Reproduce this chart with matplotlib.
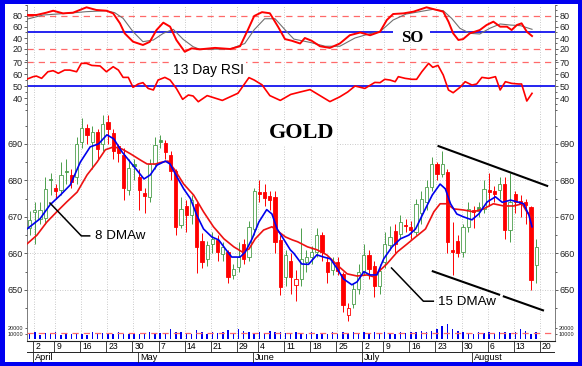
import matplotlib
matplotlib.use("Agg")
import matplotlib.pyplot as plt
from matplotlib.patches import Rectangle
from matplotlib.ticker import MultipleLocator

plt.rcParams["font.family"] = ["Liberation Sans", "DejaVu Sans"]

W, H = 582, 366
X0, X1 = -1.5, 99.6

# trading-day index: 0 = Mon 2 Apr 2007, -1 = Fri 30 Mar
day = list(range(-1, 97))
opens = [667.0, 671.3, 669.5, 669.7, 680.5, 678.0, 677.4, 682.6, 681.5, 681.0,
         690.5, 694.5, 690.5, 693.3, 690.0, 696.0, 693.0, 689.5, 687.0, 677.5,
         684.5, 681.0, 676.5, 675.5, 684.5, 691.0, 690.3, 687.0, 682.6, 667.8,
         673.0, 670.5, 673.6, 663.4, 658.5, 662.6, 663.7, 659.9, 660.4, 654.1,
         656.3, 662.6, 659.0, 666.7, 676.8, 676.8, 675.8, 675.5, 663.7, 653.6,
         658.0, 651.4, 653.0, 657.7, 659.0, 660.4, 665.0, 657.7, 655.5, 657.7,
         654.4, 643.0, 646.2, 650.3, 655.0, 659.6, 656.6, 651.1, 657.7, 662.3,
         666.2, 665.3, 667.8, 667.3, 666.0, 671.0, 674.1, 678.2, 684.5, 681.8,
         682.3, 661.0, 663.5, 660.4, 667.3, 671.9, 672.7, 672.2, 677.4, 677.0,
         677.4, 679.0, 666.4, 676.3, 674.3, 674.0, 672.7, 656.8]
highs = [671.5, 674.0, 674.0, 681.0, 682.0, 679.0, 685.0, 686.0, 683.0, 692.0,
         697.0, 695.5, 695.0, 694.0, 698.0, 698.0, 694.0, 690.0, 689.0, 686.0,
         686.0, 683.0, 678.0, 686.0, 692.0, 692.5, 691.0, 688.0, 683.0, 675.5,
         674.7, 676.0, 674.0, 665.5, 663.5, 666.0, 665.0, 663.0, 661.0, 657.0,
         663.0, 664.0, 669.0, 678.0, 680.0, 679.0, 677.0, 677.0, 665.0, 661.0,
         660.0, 655.5, 667.0, 661.0, 662.0, 667.0, 666.0, 659.0, 659.0, 659.0,
         655.0, 646.5, 652.0, 657.0, 662.5, 661.0, 658.0, 657.0, 666.0, 667.5,
         668.0, 670.5, 669.5, 669.0, 675.0, 677.0, 680.0, 686.5, 685.0, 688.0,
         683.0, 668.5, 665.0, 668.0, 674.0, 673.0, 674.0, 680.0, 682.0, 678.5,
         681.0, 681.0, 682.0, 677.0, 676.0, 675.0, 673.0, 664.0]
lows = [665.0, 662.5, 668.0, 668.0, 676.0, 675.0, 676.0, 679.0, 678.0, 679.0,
        689.0, 690.0, 683.0, 686.0, 688.0, 690.0, 686.0, 685.0, 674.5, 676.0,
        680.0, 672.0, 671.0, 674.0, 683.0, 689.0, 686.0, 680.0, 665.0, 667.0,
        666.0, 668.0, 654.5, 656.0, 656.5, 660.0, 658.0, 658.0, 652.0, 653.0,
        655.0, 657.0, 658.0, 665.0, 674.0, 673.0, 672.0, 660.0, 648.5, 651.0,
        649.0, 647.0, 651.0, 655.0, 657.0, 659.0, 658.0, 652.0, 654.0, 654.0,
        644.0, 641.5, 645.0, 649.0, 654.0, 653.0, 648.0, 649.0, 656.0, 661.0,
        660.0, 664.0, 666.0, 664.0, 665.0, 668.0, 672.0, 677.0, 680.0, 681.0,
        660.0, 654.0, 659.0, 659.0, 666.0, 667.0, 670.0, 671.0, 673.0, 674.0,
        675.0, 664.0, 663.0, 671.0, 670.0, 668.0, 650.0, 652.0]
closes = [669.2, 671.8, 672.0, 677.7, 680.0, 677.0, 681.5, 682.2, 679.6, 690.0,
          694.5, 692.5, 693.3, 688.5, 695.5, 694.2, 688.0, 687.5, 678.0, 683.5,
          684.0, 677.5, 675.8, 684.5, 689.7, 690.5, 687.7, 682.6, 667.3, 672.2,
          670.5, 674.7, 661.8, 657.7, 662.3, 664.0, 660.4, 661.8, 653.6, 655.8,
          659.0, 658.6, 667.3, 677.0, 676.3, 675.2, 674.7, 663.2, 650.8, 659.6,
          653.6, 653.0, 658.5, 659.0, 660.4, 665.0, 660.4, 655.0, 657.7, 655.2,
          645.9, 645.0, 650.3, 655.0, 659.6, 655.8, 651.1, 655.2, 662.6, 664.5,
          662.6, 668.6, 667.5, 666.4, 673.6, 675.0, 678.2, 684.5, 681.8, 684.5,
          663.2, 660.5, 660.0, 667.3, 672.2, 671.4, 671.7, 677.7, 676.8, 676.4,
          679.0, 666.4, 674.1, 674.0, 673.6, 673.4, 652.7, 661.8]
volume = [9000, 12000, 8000, 11000, 9000, 12000, 8000, 10000, 9000, 11000,
          10000, 8000, 12000, 9000, 11000, 10000, 9000, 12000, 10000, 9000,
          11000, 10000, 9000, 12000, 10000, 11000, 9000, 18000, 13000, 12000,
          11000, 10000, 17000, 12000, 10000, 13000, 11000, 12000, 17000, 11000,
          18000, 15000, 12000, 11000, 12000, 10000, 15000, 12000, 12000, 11000,
          10000, 12000, 11000, 9000, 12000, 10000, 11000, 9000, 12000, 10000,
          13000, 11000, 12000, 10000, 12000, 11000, 13000, 10000, 12000, 11000,
          10000, 12000, 11000, 13000, 12000, 14000, 13000, 14000, 18500, 23000,
          26000, 18500, 14000, 12000, 11000, 10000, 12000, 11000, 12000, 11000,
          13000, 12000, 11000, 12000, 18500, 14000, 10000, 12000]
vol_avg = 11500

ma8_x = [-1.5, 1.0, 2.9, 4.9, 6.8, 8.7, 10.6, 12.2, 13.8, 15.1,
         16.7, 18.3, 19.5, 20.9, 22.1, 23.4, 25.0, 25.9, 27.2, 28.5,
         29.8, 31.0, 32.3, 33.9, 35.2, 36.5, 37.7, 39.3, 40.3, 41.6,
         42.9, 44.4, 45.4, 46.4, 47.6, 48.9, 49.6, 51.1, 52.4, 54.0,
         55.3, 56.6, 57.9, 59.1, 60.7, 61.7, 63.0, 64.2, 65.5, 66.8,
         68.4, 70.0, 71.6, 72.9, 74.5, 76.1, 77.6, 78.6, 79.6, 80.8,
         82.1, 83.7, 85.0, 86.6, 88.2, 89.5, 91.1, 92.7, 93.6, 94.6, 95.2]
ma8_v = [666.7, 669.5, 673.3, 676.0, 678.8, 685.0, 689.2, 690.0, 692.5, 691.4,
         687.8, 685.0, 682.9, 680.4, 681.5, 684.2, 685.3, 684.5, 681.0, 677.7,
         675.0, 670.5, 666.7, 664.5, 663.7, 661.2, 659.0, 659.0, 660.4, 664.0,
         668.6, 672.0, 670.8, 666.7, 664.0, 661.0, 660.0, 657.1, 657.0, 659.6,
         659.0, 658.5, 655.8, 653.0, 651.4, 652.2, 655.0, 654.1, 654.1, 658.5,
         661.8, 664.0, 665.0, 666.7, 671.4, 676.0, 679.0, 677.7, 673.6, 670.8,
         670.0, 669.2, 670.8, 674.1, 675.5, 674.0, 674.6, 674.0, 673.6, 670.5, 667.3]
ma15_x = [-1.5, 0.4, 2.3, 4.2, 6.1, 8.1, 10.0, 11.9, 13.5, 15.1,
          16.7, 18.3, 20.2, 21.5, 23.1, 24.3, 25.5, 26.8, 28.5, 30.4,
          32.3, 34.2, 36.2, 38.1, 39.7, 41.0, 42.2, 43.8, 45.4, 46.7,
          48.0, 49.3, 50.3, 52.2, 54.0, 55.9, 57.9, 59.8, 61.7, 63.6,
          64.9, 66.2, 67.4, 69.4, 71.3, 72.9, 74.8, 76.4, 77.6, 78.9,
          80.2, 82.1, 84.0, 85.9, 87.8, 89.8, 91.7, 93.3, 94.2, 95.2]
ma15_v = [662.6, 665.0, 668.6, 671.4, 674.1, 676.8, 681.5, 685.0, 688.4, 689.2,
          688.6, 687.3, 685.6, 684.5, 684.5, 685.0, 685.3, 682.9, 679.0, 676.0,
          671.4, 667.3, 664.0, 661.8, 660.4, 661.2, 664.0, 666.4, 667.3, 665.9,
          664.5, 663.7, 663.2, 661.8, 661.0, 659.6, 656.8, 654.4, 653.8, 654.1,
          653.6, 655.5, 657.1, 660.4, 662.6, 664.5, 666.7, 671.4, 673.6, 673.6,
          672.2, 671.9, 671.4, 672.2, 673.6, 673.0, 673.0, 673.6, 671.4, 670.0]

so_k_x = [-1.6, 0.3, 2.2, 3.5, 5.4, 7.3, 9.9, 11.8, 13.7, 15.0,
          16.3, 17.2, 18.8, 20.7, 22.0, 23.3, 24.6, 25.9, 27.1, 28.7,
          30.0, 31.6, 34.5, 37.4, 39.3, 40.8, 42.0, 43.5, 45.0, 46.6,
          47.9, 49.2, 50.8, 51.7, 53.0, 54.6, 56.5, 58.4, 60.3, 62.3,
          64.2, 66.1, 67.4, 68.6, 70.6, 72.5, 75.0, 77.0, 78.2, 79.2,
          80.1, 81.1, 82.0, 83.3, 85.2, 86.5, 87.8, 89.1, 90.4, 91.3,
          92.3, 93.2, 94.2, 95.2]
so_k_v = [81.8, 81.8, 86.0, 89.6, 84.8, 86.0, 95.8, 90.9, 89.6, 84.8,
          66.7, 48.5, 33.3, 27.3, 33.0, 54.5, 67.9, 60.6, 36.4, 15.0,
          21.2, 19.4, 22.0, 20.0, 25.0, 55.0, 80.0, 87.0, 85.0, 60.0,
          38.0, 35.0, 30.0, 40.0, 35.0, 25.0, 22.0, 30.0, 45.0, 50.0,
          45.0, 51.5, 72.7, 83.6, 84.8, 87.9, 95.8, 90.9, 87.9, 69.7,
          48.5, 36.4, 38.0, 48.5, 54.5, 63.6, 69.7, 60.6, 60.6, 54.5,
          63.6, 66.7, 51.5, 43.6]
so_d_x = [-1.6, 1.6, 6.1, 9.9, 13.7, 15.3, 16.9, 18.8, 20.7, 22.7,
          24.6, 26.5, 28.4, 30.3, 31.6, 37.4, 40.2, 42.0, 44.0, 46.0,
          47.9, 49.6, 52.7, 55.6, 58.4, 61.3, 64.2, 66.1, 68.6, 71.1,
          73.7, 76.2, 78.2, 79.8, 81.4, 83.3, 85.2, 87.1, 89.1, 91.0,
          93.0, 95.2]
so_d_v = [74.0, 81.8, 84.8, 87.9, 89.6, 86.0, 75.8, 51.5, 33.3, 36.4,
          48.5, 55.8, 37.6, 24.2, 19.4, 20.0, 30.0, 55.0, 75.0, 75.0,
          55.0, 38.0, 32.0, 25.0, 25.0, 40.0, 48.0, 51.5, 72.7, 83.6,
          87.9, 92.1, 89.6, 75.8, 57.6, 48.5, 47.3, 57.6, 65.5, 63.6,
          62.4, 55.8]

rsi_x = [-1.6, -0.3, 0.3, 1.3, 2.5, 3.5, 4.5, 5.7, 6.7, 8.0,
         8.9, 9.9, 10.9, 12.5, 13.7, 15.0, 16.0, 16.9, 17.9, 18.8,
         19.8, 20.7, 21.7, 22.7, 23.6, 24.9, 25.9, 27.1, 28.3, 29.4,
         30.3, 31.3, 33.0, 35.9, 38.9, 41.0, 42.0, 43.5, 45.0, 47.0,
         49.0, 50.8, 52.7, 54.6, 56.5, 58.4, 59.9, 61.3, 63.2, 65.1,
         66.1, 67.0, 68.0, 69.0, 69.6, 70.9, 72.2, 73.1, 74.1, 75.4,
         76.2, 77.2, 78.2, 79.2, 80.1, 81.4, 82.4, 83.7, 84.6, 85.6,
         86.9, 88.2, 89.1, 90.1, 91.3, 92.6, 93.2, 94.2, 95.2]
rsi_v = [55.6, 57.8, 58.3, 56.4, 61.9, 62.8, 60.6, 63.3, 63.3, 61.9,
         68.9, 68.9, 67.2, 66.7, 61.9, 66.1, 63.3, 57.2, 57.2, 48.9,
         51.7, 52.8, 48.0, 46.7, 55.0, 57.2, 55.0, 48.0, 38.9, 42.5,
         41.7, 36.9, 42.0, 38.0, 44.0, 57.0, 55.0, 51.0, 42.0, 38.0,
         43.0, 45.0, 47.0, 42.0, 37.0, 41.0, 45.0, 50.0, 48.0, 53.0,
         52.8, 55.6, 55.0, 53.6, 57.8, 56.4, 55.6, 55.6, 61.9, 68.9,
         65.6, 67.2, 59.2, 46.7, 44.4, 48.9, 53.6, 50.8, 51.7, 57.2,
         56.4, 57.8, 46.7, 53.6, 52.2, 51.7, 51.7, 37.5, 43.9]

week_idx = [0, 4, 9, 14, 19, 24, 29, 34, 39, 43, 48, 53, 58, 63, 67, 72, 77, 82, 87, 92, 97]
week_lbl = ["2", "9", "16", "23", "30", "7", "14", "21", "29", "4", "11",
            "18", "25", "2", "9", "16", "23", "30", "6", "13", "20"]
month_idx = [0, 20, 42, 63, 84]
month_lbl = ["April", "May", "June", "July", "August"]

# trend channel drawn on the chart (index, price); the lower line has a small break
upper_x, upper_y = [77.3, 98.1], [689.4, 678.5]
lower_a_x, lower_a_y = [76.2, 88.9], [655.1, 648.7]
lower_b_x, lower_b_y = [89.8, 97.3], [648.2, 644.4]

GREEN = "#4c9f4c"
RED = "#ff0000"
BLUE = "#0000ee"
PINK = "#ff6a6a"
GRID = "#b8b8b8"

fig = plt.figure(figsize=(W / 100, H / 100), dpi=100, facecolor="#0000f0")
fig.patches.append(Rectangle((5 / W, 4 / H), 573 / W, 358 / H, transform=fig.transFigure,
                             facecolor="white", edgecolor="none", zorder=-10))


def panel(top, bottom, lo, hi, major, minor, labels=True):
    ax = fig.add_axes([27 / W, 1 - bottom / H, 528 / W, (bottom - top) / H])
    ax.set_xlim(X0, X1)
    ax.set_ylim(lo, hi)
    ax.set_facecolor("none")
    ax.spines["top"].set_visible(False)
    ax.spines["bottom"].set_visible(False)
    for s in ("left", "right"):
        ax.spines[s].set_color("#666666")
        ax.spines[s].set_linewidth(0.6)
    ax.set_xticks([])
    ax.set_yticks(major)
    if minor:
        ax.yaxis.set_minor_locator(MultipleLocator(minor))
    ax.tick_params(axis="y", which="both", left=True, right=True, labelleft=labels,
                   labelright=labels, labelsize=6.5, width=0.5, pad=1, colors="#222222")
    ax.tick_params(axis="y", which="major", length=2.2)
    ax.tick_params(axis="y", which="minor", length=1.2)
    for w in week_idx:
        ax.axvline(w - 0.2, color=GRID, lw=0.6, ls=(0, (1, 2)), zorder=0)
    return ax


# ---- stochastic oscillator ----
ax_so = panel(5, 60, 0, 100, [20, 40, 60, 80], 10)
for lv in (80, 20):
    ax_so.axhline(lv, color=PINK, lw=0.9, ls=(0, (5, 4)), zorder=1)
ax_so.hlines(50, X0, 68.6, color=BLUE, lw=1.2, zorder=1)
ax_so.hlines(50, 75.7, X1, color=BLUE, lw=1.2, zorder=1)
ax_so.plot(so_d_x, so_d_v, color="#707070", lw=0.8, zorder=2)
ax_so.plot(so_k_x, so_k_v, color=RED, lw=1.4, zorder=3)
ax_so.text(72.2, 40, "SO", ha="center", va="center", fontsize=12, fontweight="bold",
           family="Liberation Serif", zorder=5)

# ---- RSI ----
ax_rsi = panel(60, 110, 30, 71.7, [40, 50, 60, 70], 5)
ax_rsi.axhline(70, color=PINK, lw=0.9, ls=(0, (5, 4)), zorder=1)
ax_rsi.axhline(50, color=BLUE, lw=1.2, zorder=1)
ax_rsi.plot(rsi_x, rsi_v, color=RED, lw=1.2, zorder=3)
ax_rsi.text(33.3, 63.3, "13 Day RSI", ha="center", va="center", fontsize=10, zorder=5,
            bbox=dict(facecolor="white", edgecolor="none", pad=1.5))

# ---- price ----
ax_p = panel(110, 322, 641.2, 699.3, [650, 660, 670, 680, 690], 5)
for lv in (650, 660, 670, 680, 690):
    ax_p.axhline(lv, color=GRID, lw=0.6, ls=(0, (1, 2)), zorder=0)

prev = None
for d, o, h, l, c in zip(day, opens, highs, lows, closes):
    col = GREEN if prev is None or c >= prev else RED
    filled = c < o
    ax_p.vlines(d, l, h, color=col, lw=0.7, zorder=2)
    ax_p.bar(d, max(abs(c - o), 0.25), bottom=min(o, c), width=0.62,
             color=col if filled else "white", edgecolor=col, linewidth=0.6, zorder=3)
    prev = c

ax_p.plot(ma15_x, ma15_v, color="#ee1111", lw=1.2, zorder=4)
ax_p.plot(ma8_x, ma8_v, color=BLUE, lw=1.2, zorder=5)
ax_p.plot(upper_x, upper_y, color="black", lw=1.5, zorder=6)
ax_p.plot(lower_a_x, lower_a_y, color="black", lw=1.5, zorder=6)
ax_p.plot(lower_b_x, lower_b_y, color="black", lw=1.5, zorder=6)

ax_p.text(51, 693, "GOLD", ha="center", va="center", fontsize=16, fontweight="bold",
          family="Liberation Serif", zorder=7,
          bbox=dict(facecolor="white", edgecolor="none", pad=2))
ax_p.plot([2.9, 8.9, 10.5], [673.8, 664.8, 664.8], color="black", lw=1.1, zorder=6)
ax_p.text(11.5, 664.8, "8 DMAw", ha="left", va="center", fontsize=9.6, zorder=7)
ax_p.plot([68.3, 74.4, 76.3], [656.0, 646.9, 646.9], color="black", lw=1.1, zorder=6)
ax_p.text(77.2, 646.6, "15 DMAw", ha="left", va="center", fontsize=9.6, zorder=7)

# ---- volume ----
ax_v = panel(322, 341, -2857, 30000, [10000, 20000], None)
ax_v.tick_params(axis="y", labelsize=4, length=1.5)
ax_v.spines["bottom"].set_visible(True)
ax_v.spines["bottom"].set_color("#222222")
ax_v.spines["bottom"].set_linewidth(0.8)
ax_v.bar(day, volume, width=0.28, color=BLUE, zorder=2)
ax_v.axhline(vol_avg, color=PINK, lw=0.9, ls=(0, (5, 4)), zorder=3)

# ---- date axis ----
ax_d = fig.add_axes([27 / W, 1 - 363 / H, 528 / W, 22 / H])
ax_d.set_xlim(X0, X1)
ax_d.set_ylim(0, 22)
ax_d.axis("off")
ax_d.axhline(11, color="#222222", lw=0.7)
for w, lbl in zip(week_idx, week_lbl):
    ax_d.vlines(w - 0.3, 11, 22, color="#222222", lw=0.6)
    ax_d.text(w + 0.1, 16.3, lbl, ha="left", va="center", fontsize=6.2)
for m, lbl in zip(month_idx, month_lbl):
    ax_d.vlines(m - 0.3, 0, 11, color="#222222", lw=0.6)
    ax_d.text(m + 0.1, 5.3, lbl, ha="left", va="center", fontsize=6.6)

fig.savefig("out.png", dpi=100, facecolor=fig.get_facecolor())
